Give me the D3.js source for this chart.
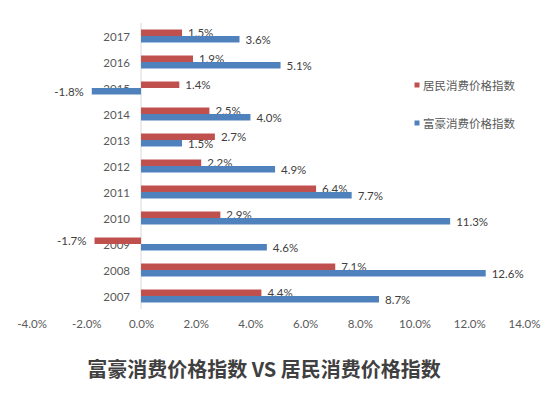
<!DOCTYPE html>
<html>
<head>
<meta charset="utf-8">
<script src="https://cdn.jsdelivr.net/npm/d3@7"></script>
<style>
  html, body { margin: 0; padding: 0; background: #fff; }
  svg { display: block; }
</style>
</head>
<body>
<svg id="chart" width="550" height="399"></svg>
<script>
const years = ["2017","2016","2015","2014","2013","2012","2011","2010","2009","2008","2007"];
const residentCPI = [1.5, 1.9, 1.4, 2.5, 2.7, 2.2, 6.4, 2.9, -1.7, 7.1, 4.4];
const luxuryCPI   = [3.6, 5.1, -1.8, 4.0, 1.5, 4.9, 7.7, 11.3, 4.6, 12.6, 8.7];
const seriesNames = ["居民消费价格指数", "富豪消费价格指数"];
const seriesColors = ["#C0504D", "#4F81BD"];
const xTicks = [-4, -2, 0, 2, 4, 6, 8, 10, 12, 14];
const title = "富豪消费价格指数 VS 居民消费价格指数";

const svg = d3.select("#chart");
const font = "Lato, 'Noto Sans CJK SC', sans-serif";

const x = d3.scaleLinear().domain([-4, 14]).range([31.6, 524]);
const y = d3.scaleBand().domain(years).range([23, 309]).padding(0);
const inner = d3.scaleBand().domain([0, 1]).range([6.5, 19.5]).padding(0);

// category labels (drawn under bars)
svg.append("g").selectAll("text").data(years).join("text")
  .attr("x", 130)
  .attr("y", d => y(d) + y.bandwidth() / 2)
  .attr("text-anchor", "end")
  .attr("dominant-baseline", "central")
  .attr("font-family", font)
  .attr("font-size", 11.5)
  .attr("fill", "#595959")
  .text(d => d);

// zero axis line
svg.append("line")
  .attr("x1", x(0)).attr("x2", x(0))
  .attr("y1", 23).attr("y2", 309)
  .attr("stroke", "#D9D9D9").attr("stroke-width", 1);

const seriesData = [residentCPI, luxuryCPI];
seriesData.forEach((vals, si) => {
  const g = svg.append("g");
  const data = years.map((yr, i) => ({ yr, v: vals[i] }));
  g.selectAll("rect").data(data).join("rect")
    .attr("x", d => x(Math.min(0, d.v)))
    .attr("width", d => Math.abs(x(d.v) - x(0)))
    .attr("y", d => y(d.yr) + inner(si))
    .attr("height", inner.bandwidth())
    .attr("fill", seriesColors[si]);
  g.selectAll("text").data(data).join("text")
    .attr("x", d => d.v >= 0 ? x(d.v) + 6 : x(d.v) - 8)
    .attr("y", d => y(d.yr) + inner(si) + inner.bandwidth() / 2 + (si === 0 ? -0.5 : 0.5))
    .attr("text-anchor", d => d.v >= 0 ? "start" : "end")
    .attr("dominant-baseline", "central")
    .attr("font-family", font)
    .attr("font-size", 11.5)
    .attr("fill", "#404040")
    .text(d => d.v.toFixed(1) + "%");
});

// x axis tick labels
const xAxis = d3.axisBottom(x).tickValues(xTicks).tickSize(0).tickPadding(0)
  .tickFormat(d => d.toFixed(1) + "%");
const ax = svg.append("g").attr("transform", "translate(0,319.5)").call(xAxis);
ax.select(".domain").remove();
ax.selectAll("text")
  .attr("font-family", font)
  .attr("font-size", 11.5)
  .attr("fill", "#595959");

// legend
const legend = svg.append("g");
const legendY = [85, 123];
seriesNames.forEach((name, i) => {
  legend.append("rect")
    .attr("x", 414.5).attr("y", legendY[i] - 2.5)
    .attr("width", 5).attr("height", 5)
    .attr("fill", seriesColors[i]);
  legend.append("text")
    .attr("x", 423).attr("y", legendY[i])
    .attr("dominant-baseline", "central")
    .attr("font-family", "'Noto Sans CJK SC', sans-serif")
    .attr("font-size", 11.5)
    .attr("fill", "#595959")
    .text(name);
});

// title
svg.append("text")
  .attr("x", 264).attr("y", 368)
  .attr("text-anchor", "middle")
  .attr("dominant-baseline", "central")
  .attr("font-family", "'Noto Sans CJK SC', sans-serif")
  .attr("font-weight", "bold")
  .attr("font-size", 20)
  .attr("fill", "#404040")
  .text(title);
</script>
</body>
</html>
